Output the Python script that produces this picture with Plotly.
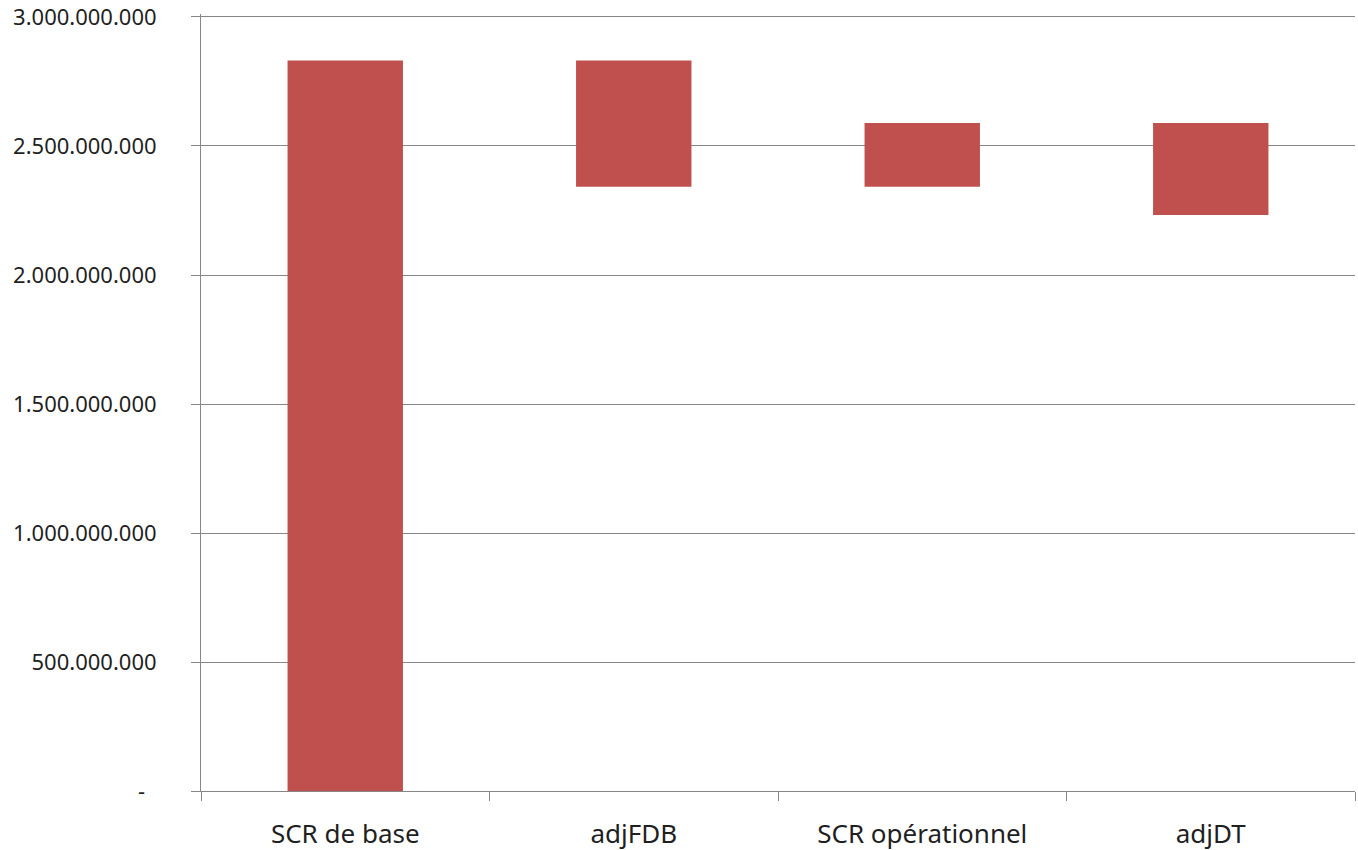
import plotly.graph_objects as go

# Waterfall steps: each bar floats from `bar_bottom` to `bar_top`
categories = ["SCR de base", "adjFDB", "SCR opérationnel", "adjDT"]
bar_top = [2_831_000_000, 2_831_000_000, 2_589_000_000, 2_589_000_000]
bar_bottom = [0, 2_342_000_000, 2_342_000_000, 2_233_000_000]

y_tick_values = [0, 500_000_000, 1_000_000_000, 1_500_000_000,
                 2_000_000_000, 2_500_000_000, 3_000_000_000]
y_tick_labels = ["-" + "\u00a0" * 2, "500.000.000", "1.000.000.000", "1.500.000.000",
                 "2.000.000.000", "2.500.000.000", "3.000.000.000"]

heights = [t - b for t, b in zip(bar_top, bar_bottom)]

fig = go.Figure(
    go.Bar(
        x=categories,
        y=heights,
        base=bar_bottom,
        width=0.4,
        marker=dict(color="#C0504D", line=dict(width=0)),
        hoverinfo="skip",
    )
)

axis_grey = "#868686"
text_color = "#1f1f1f"

fig.update_layout(
    width=1358,
    height=850,
    margin=dict(l=201, r=3, t=14, b=59),
    paper_bgcolor="white",
    plot_bgcolor="white",
    showlegend=False,
    font=dict(family="Noto Sans", color=text_color),
)

fig.update_yaxes(
    range=[0, 3_011_600_000],
    automargin=False,
    tickvals=y_tick_values,
    ticktext=y_tick_labels,
    tickfont=dict(size=22, color=text_color),
    ticklabeloverflow="allow",
    showgrid=True,
    gridcolor=axis_grey,
    gridwidth=1,
    showline=True,
    linecolor=axis_grey,
    linewidth=1,
    ticks="outside",
    ticklen=9,
    tickcolor=axis_grey,
    ticklabelstandoff=30,
    zeroline=False,
)

fig.update_xaxes(
    type="category",
    automargin=False,
    tickson="boundaries",
    tickfont=dict(size=26, color=text_color),
    showgrid=False,
    showline=True,
    linecolor=axis_grey,
    linewidth=1,
    ticks="outside",
    ticklen=9,
    tickcolor=axis_grey,
    ticklabelstandoff=20,
    zeroline=False,
)

fig.write_html("out.html")
